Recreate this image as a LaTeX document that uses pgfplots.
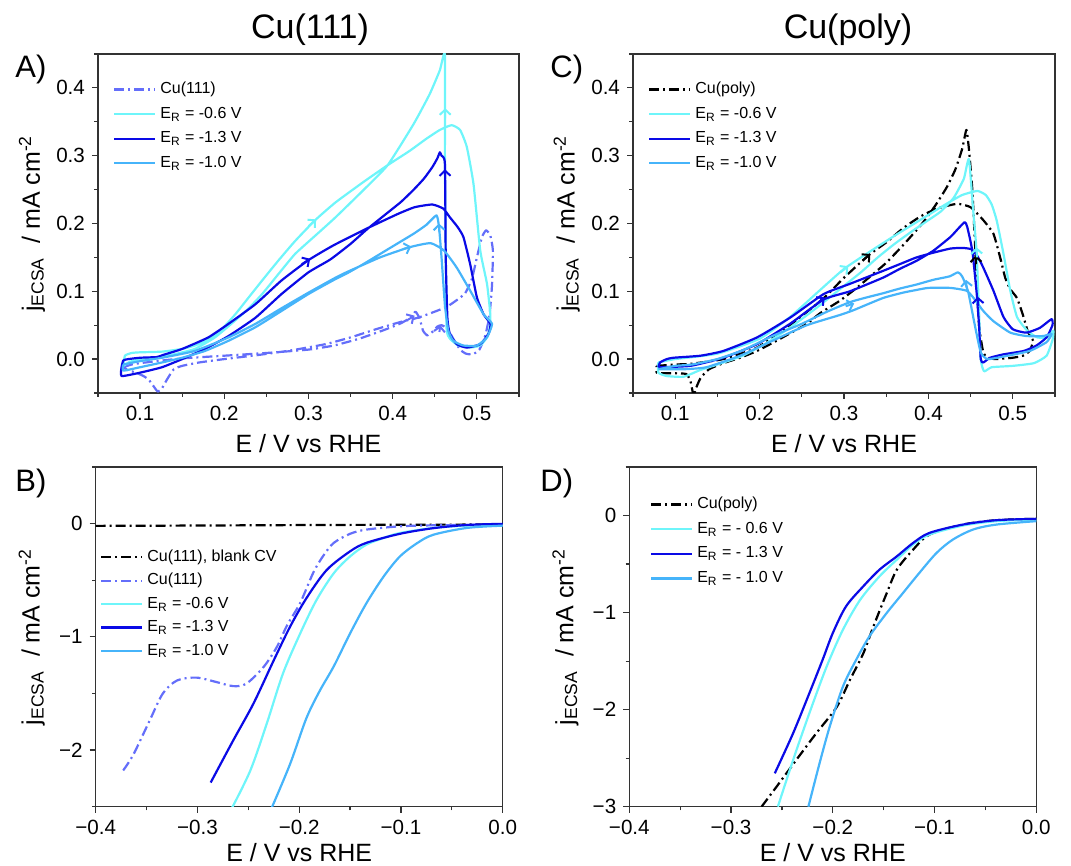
\documentclass[border=0pt]{standalone}
\usepackage{fontspec}
\setmainfont{Liberation Sans}
\usepackage{pgfplots}
\pgfplotsset{compat=1.18}
\usetikzlibrary{arrows.meta}

\definecolor{periw}{RGB}{100,110,250}
\definecolor{cyanR}{RGB}{110,245,250}
\definecolor{darkR}{RGB}{10,10,230}
\definecolor{medR}{RGB}{70,180,250}

\pgfplotsset{
  panel/.style={
    scale only axis,
    axis line style={black!80, line width=0.7pt},
    tick align=outside,
    xtick pos=bottom, ytick pos=left,
    major tick length=3pt, minor tick length=1.8pt,
    every tick/.style={black!80, line width=0.6pt},
    tick label style={font=\fontsize{10.3}{12}\selectfont},
    label style={font=\fontsize{12.5}{14}\selectfont},
    /pgf/number format/assume math mode=true,
    legend style={draw=none, fill=none, font=\fontsize{8}{9.6}\selectfont,
      anchor=north west, inner sep=0pt, row sep=1.2pt},
    legend cell align=left,
    legend image code/.code={\draw[##1] (0pt,0pt) -- (20.5pt,0pt);},
    every axis plot/.append style={line width=1.1pt, line join=round},
    ylabel={j\textsubscript{ECSA}~ / mA cm\textsuperscript{-2}},
    xlabel={E / V vs RHE},
  },
  cvpanel/.style={
    panel, width=210.5pt, height=169.5pt,
    xmin=0.05, xmax=0.55, ymin=-0.05, ymax=0.45,
    xtick={0.1,0.2,0.3,0.4,0.5},
    minor xtick={0.05,0.15,0.25,0.35,0.45,0.55},
    ytick={0,0.1,0.2,0.3,0.4},
    minor ytick={-0.05,0.05,0.15,0.25,0.35,0.45},
    xticklabel style={/pgf/number format/.cd, fixed, fixed zerofill, precision=1},
    yticklabel style={/pgf/number format/.cd, fixed, fixed zerofill, precision=1},
    ylabel style={at={(axis description cs:-0.157,0.5)}, anchor=center},
    xlabel style={at={(axis description cs:0.5,-0.177)}, anchor=base},
    legend style={at={(0.035,0.93)}},
    every axis plot/.append style={smooth, tension=0.3},
  },
  lsvpanel/.style={
    panel, width=203.5pt, height=169.85pt,
    xmin=-0.4, xmax=0,
    xtick={-0.4,-0.3,-0.2,-0.1,0},
    xticklabels={−0.4,−0.3,−0.2,−0.1,0.0},
    minor xtick={-0.35,-0.25,-0.15,-0.05},
    ylabel style={at={(axis description cs:-0.157,0.5)}, anchor=center},
    xlabel style={at={(axis description cs:0.5,-0.162)}, anchor=base},
    every axis plot/.append style={smooth},
  },
  dd/.style={dash pattern=on 5pt off 2pt on 1pt off 2pt},
  % short segment with an open head, laid over a curve to show the sweep
  sweep/.style={forget plot, -{Straight Barb[length=2.6pt,width=5.5pt]}, line width=1pt},
}

\begin{document}
\begin{tikzpicture}

% ---------------- A) Cu(111) CVs
\begin{axis}[cvpanel, at={(49pt,236.5pt)}, anchor=south west]
\addplot[periw, dd] coordinates {
 (0.080,-0.012) (0.090,-0.008) (0.100,-0.006) (0.120,-0.003) (0.150,0.001)
 (0.200,0.005) (0.250,0.009) (0.300,0.014) (0.330,0.020) (0.360,0.030)
 (0.390,0.043) (0.410,0.053) (0.422,0.062) (0.427,0.070) (0.432,0.060)
 (0.436,0.042) (0.441,0.035) (0.447,0.040) (0.453,0.048) (0.458,0.050)
 (0.465,0.045) (0.472,0.030) (0.480,0.014) (0.487,0.008) (0.495,0.007)
 (0.503,0.014) (0.510,0.035) (0.515,0.065) (0.518,0.110) (0.519,0.160)
 (0.516,0.182) (0.511,0.190) (0.506,0.180) (0.500,0.150) (0.494,0.118)
 (0.486,0.097) (0.475,0.086) (0.464,0.077) (0.450,0.070) (0.430,0.061)
 (0.410,0.055) (0.380,0.044) (0.350,0.032) (0.320,0.022) (0.280,0.013)
 (0.240,0.006) (0.200,0.000) (0.170,-0.005) (0.150,-0.010) (0.140,-0.015)
 (0.132,-0.030) (0.126,-0.043) (0.121,-0.048) (0.116,-0.040) (0.110,-0.030)
 (0.104,-0.025) (0.095,-0.020) (0.085,-0.016) (0.080,-0.012)
};
\addplot[cyanR] coordinates {
 (0.080,-0.010) (0.082,0.005) (0.090,0.009) (0.100,0.010) (0.126,0.011)
 (0.150,0.015) (0.165,0.020) (0.181,0.029) (0.197,0.044) (0.213,0.066)
 (0.229,0.091) (0.245,0.116) (0.264,0.145) (0.284,0.174) (0.308,0.205)
 (0.332,0.231) (0.365,0.261) (0.394,0.286) (0.420,0.307) (0.440,0.325)
 (0.456,0.338) (0.470,0.345) (0.480,0.338) (0.488,0.313) (0.496,0.258)
 (0.504,0.160) (0.512,0.111) (0.516,0.065) (0.515,0.045) (0.512,0.032)
 (0.504,0.020) (0.492,0.017) (0.478,0.020) (0.468,0.030) (0.464,0.045)
 (0.463,0.150) (0.462,0.300) (0.462,0.449) (0.456,0.426) (0.444,0.391)
 (0.425,0.347) (0.394,0.286) (0.365,0.249) (0.332,0.209) (0.308,0.182)
 (0.284,0.155) (0.264,0.125) (0.245,0.096) (0.229,0.075) (0.213,0.057)
 (0.189,0.032) (0.165,0.015) (0.140,0.007) (0.120,0.003) (0.100,0.000)
 (0.088,-0.004) (0.080,-0.010)
};
\addplot[darkR] coordinates {
 (0.078,-0.012) (0.080,-0.002) (0.086,0.000) (0.100,0.002) (0.120,0.003)
 (0.127,0.006) (0.150,0.015) (0.181,0.032) (0.205,0.052) (0.237,0.081)
 (0.268,0.116) (0.300,0.146) (0.330,0.168) (0.370,0.193) (0.406,0.214)
 (0.426,0.224) (0.447,0.228) (0.460,0.222) (0.468,0.209) (0.477,0.195)
 (0.484,0.180) (0.492,0.140) (0.500,0.091) (0.508,0.066) (0.516,0.052)
 (0.514,0.038) (0.504,0.022) (0.488,0.017) (0.476,0.022) (0.468,0.037)
 (0.465,0.060) (0.463,0.150) (0.462,0.288) (0.458,0.300) (0.456,0.305)
 (0.453,0.296) (0.447,0.283) (0.437,0.266) (0.425,0.250) (0.410,0.232)
 (0.390,0.212) (0.370,0.192) (0.350,0.170) (0.326,0.147) (0.300,0.128)
 (0.268,0.096) (0.237,0.061) (0.205,0.034) (0.177,0.015) (0.150,0.000)
 (0.126,-0.012) (0.100,-0.020) (0.078,-0.025) (0.078,-0.012)
};
\addplot[medR] coordinates {
 (0.080,-0.008) (0.100,-0.003) (0.126,0.002) (0.165,0.012) (0.205,0.032)
 (0.237,0.052) (0.268,0.075) (0.300,0.098) (0.332,0.120) (0.345,0.128)
 (0.385,0.150) (0.420,0.165) (0.445,0.171) (0.461,0.160) (0.476,0.135)
 (0.492,0.101) (0.508,0.066) (0.518,0.052) (0.512,0.032) (0.500,0.020)
 (0.484,0.020) (0.472,0.027) (0.466,0.042) (0.462,0.080) (0.458,0.150)
 (0.455,0.195) (0.452,0.212) (0.440,0.198) (0.425,0.185) (0.405,0.170)
 (0.385,0.155) (0.365,0.140) (0.345,0.126) (0.332,0.118) (0.300,0.096)
 (0.268,0.071) (0.237,0.047) (0.205,0.027) (0.177,0.012) (0.150,0.002)
 (0.126,-0.005) (0.100,-0.012) (0.080,-0.017) (0.080,-0.008)
};
% sweep arrows
\addplot[sweep, periw] coordinates {(0.418,0.058) (0.426,0.064)};
\addplot[sweep, periw] coordinates {(0.4555,0.040) (0.4565,0.050)};
\addplot[sweep, cyanR] coordinates {(0.300,0.196) (0.309,0.206)};
\addplot[sweep, cyanR] coordinates {(0.4624,0.355) (0.4623,0.370)};
\addplot[sweep, darkR] coordinates {(0.292,0.140) (0.302,0.148)};
\addplot[sweep, darkR] coordinates {(0.4622,0.265) (0.4621,0.280)};
\addplot[sweep, medR] coordinates {(0.412,0.162) (0.422,0.166)};
\addplot[sweep, medR] coordinates {(0.4552,0.188) (0.4548,0.200)};
\legend{Cu(111), E\textsubscript{R} = -0.6 V, E\textsubscript{R} = -1.3 V, E\textsubscript{R} = -1.0 V}
\end{axis}

% ---------------- C) Cu(poly) CVs
\begin{axis}[cvpanel, at={(316.5pt,236.5pt)}, anchor=south west, width=211pt]
\addplot[black, dd] coordinates {
 (0.078,-0.010) (0.100,-0.008) (0.118,-0.007) (0.157,0.000) (0.197,0.017)
 (0.236,0.050) (0.276,0.090) (0.300,0.120) (0.329,0.153) (0.350,0.172)
 (0.370,0.193) (0.390,0.210) (0.410,0.222) (0.434,0.229) (0.450,0.224)
 (0.465,0.205) (0.477,0.185) (0.485,0.150) (0.491,0.120) (0.497,0.103)
 (0.505,0.090) (0.512,0.065) (0.518,0.040) (0.524,0.027) (0.520,0.012)
 (0.512,0.005) (0.500,0.002) (0.480,0.000) (0.470,0.002) (0.465,0.010)
 (0.460,0.050) (0.456,0.150) (0.452,0.250) (0.448,0.310) (0.445,0.338)
 (0.440,0.310) (0.432,0.280) (0.422,0.254) (0.410,0.230) (0.400,0.212)
 (0.390,0.196) (0.370,0.168) (0.350,0.142) (0.335,0.126) (0.315,0.105)
 (0.295,0.086) (0.272,0.068) (0.256,0.052) (0.236,0.038) (0.217,0.025)
 (0.197,0.012) (0.177,0.002) (0.157,-0.006) (0.140,-0.015) (0.130,-0.028)
 (0.124,-0.045) (0.122,-0.056) (0.118,-0.032) (0.113,-0.022) (0.100,-0.021)
 (0.085,-0.021) (0.078,-0.020) (0.078,-0.010)
};
\addplot[cyanR] coordinates {
 (0.080,-0.005) (0.100,0.000) (0.150,0.008) (0.200,0.030) (0.236,0.062)
 (0.270,0.100) (0.300,0.133) (0.330,0.158) (0.360,0.182) (0.390,0.205)
 (0.420,0.228) (0.440,0.242) (0.458,0.248) (0.468,0.242) (0.475,0.228)
 (0.481,0.204) (0.489,0.155) (0.497,0.101) (0.505,0.062) (0.517,0.042)
 (0.529,0.032) (0.541,0.032) (0.548,0.042) (0.547,0.028) (0.540,0.005)
 (0.525,-0.006) (0.500,-0.010) (0.475,-0.012) (0.466,-0.018) (0.462,0.000)
 (0.460,0.070) (0.457,0.160) (0.453,0.220) (0.448,0.295) (0.442,0.266)
 (0.430,0.238) (0.415,0.218) (0.400,0.205) (0.380,0.188) (0.360,0.170)
 (0.340,0.150) (0.320,0.128) (0.300,0.108) (0.270,0.078) (0.240,0.050)
 (0.210,0.025) (0.180,0.005) (0.150,-0.008) (0.130,-0.016) (0.110,-0.026)
 (0.090,-0.025) (0.080,-0.020) (0.080,-0.005)
};
\addplot[darkR] coordinates {
 (0.080,-0.012) (0.082,-0.005) (0.090,0.000) (0.098,0.002) (0.130,0.005)
 (0.157,0.012) (0.197,0.032) (0.236,0.061) (0.276,0.096) (0.307,0.111)
 (0.346,0.130) (0.366,0.140) (0.386,0.150) (0.406,0.157) (0.426,0.163)
 (0.440,0.164) (0.451,0.162) (0.458,0.152) (0.465,0.135) (0.477,0.101)
 (0.489,0.062) (0.500,0.044) (0.516,0.039) (0.532,0.046) (0.546,0.059)
 (0.547,0.050) (0.540,0.032) (0.528,0.020) (0.513,0.012) (0.489,0.007)
 (0.473,0.002) (0.465,-0.005) (0.462,0.000) (0.460,0.050) (0.457,0.100)
 (0.452,0.160) (0.446,0.195) (0.443,0.202) (0.435,0.192) (0.426,0.180)
 (0.406,0.160) (0.386,0.145) (0.366,0.133) (0.346,0.120) (0.307,0.100)
 (0.276,0.088) (0.236,0.052) (0.197,0.022) (0.157,0.002) (0.118,-0.010)
 (0.080,-0.012)
};
\addplot[medR] coordinates {
 (0.080,-0.015) (0.110,-0.015) (0.137,-0.012) (0.177,0.005) (0.217,0.028)
 (0.256,0.050) (0.295,0.065) (0.311,0.072) (0.346,0.090) (0.370,0.098)
 (0.386,0.102) (0.400,0.105) (0.426,0.105) (0.445,0.101) (0.453,0.091)
 (0.465,0.071) (0.477,0.056) (0.497,0.039) (0.516,0.034) (0.536,0.034)
 (0.546,0.037) (0.540,0.025) (0.520,0.012) (0.490,0.004) (0.470,0.000)
 (0.462,0.010) (0.455,0.050) (0.447,0.100) (0.440,0.122) (0.435,0.128)
 (0.425,0.122) (0.406,0.117) (0.386,0.110) (0.366,0.104) (0.346,0.097)
 (0.327,0.091) (0.307,0.084) (0.280,0.070) (0.250,0.052) (0.217,0.035)
 (0.180,0.013) (0.150,0.000) (0.120,-0.008) (0.100,-0.010) (0.080,-0.015)
};
% sweep arrows
\addplot[sweep, black] coordinates {(0.322,0.145) (0.331,0.155)};
\addplot[sweep, black] coordinates {(0.4565,0.140) (0.4560,0.153)};
\addplot[sweep, cyanR] coordinates {(0.296,0.128) (0.305,0.137)};
\addplot[sweep, cyanR] coordinates {(0.4575,0.150) (0.4568,0.165)};
\addplot[sweep, darkR] coordinates {(0.268,0.082) (0.277,0.091)};
\addplot[sweep, darkR] coordinates {(0.4590,0.078) (0.4585,0.092)};
\addplot[sweep, medR] coordinates {(0.302,0.078) (0.312,0.082)};
\addplot[sweep, medR] coordinates {(0.4455,0.104) (0.4445,0.117)};
\legend{Cu(poly), E\textsubscript{R} = -0.6 V, E\textsubscript{R} = -1.3 V, E\textsubscript{R} = -1.0 V}
\end{axis}

% ---------------- B) Cu(111) LSVs
\begin{axis}[lsvpanel, at={(47.85pt,29.65pt)}, anchor=south west,
  ymin=-2.5, ymax=0.5, ytick={-2,-1,0}, yticklabels={−2,−1,0},
  minor ytick={-2.5,-1.5,-0.5,0.5},
  legend style={at={(0.01,0.77)}, row sep=0.6pt}]
\addplot[black, dd] coordinates {
 (-0.400,-0.020) (-0.300,-0.017) (-0.200,-0.013) (-0.100,-0.010) (0.000,-0.008)
};
\addplot[periw, dd] coordinates {
 (-0.373,-2.18) (-0.363,-2.04) (-0.347,-1.74) (-0.334,-1.50) (-0.320,-1.385)
 (-0.301,-1.36) (-0.281,-1.40) (-0.265,-1.435) (-0.252,-1.414) (-0.235,-1.266)
 (-0.222,-1.09) (-0.212,-0.90) (-0.199,-0.70) (-0.186,-0.43) (-0.176,-0.28)
 (-0.166,-0.17) (-0.150,-0.09) (-0.134,-0.053) (-0.101,-0.024) (-0.068,-0.015)
 (0.000,-0.009)
};
\addplot[cyanR] coordinates {
 (-0.266,-2.51) (-0.248,-2.18) (-0.232,-1.77) (-0.216,-1.325) (-0.199,-0.970)
 (-0.183,-0.675) (-0.166,-0.438) (-0.150,-0.290) (-0.134,-0.186) (-0.117,-0.127)
 (-0.101,-0.083) (-0.068,-0.038) (-0.035,-0.018) (0.000,-0.015)
};
\addplot[darkR] coordinates {
 (-0.287,-2.287) (-0.265,-1.917) (-0.245,-1.590) (-0.225,-1.207) (-0.209,-0.911)
 (-0.193,-0.660) (-0.173,-0.410) (-0.150,-0.245) (-0.134,-0.170) (-0.101,-0.090)
 (-0.068,-0.040) (-0.035,-0.012) (0.000,-0.002)
};
\addplot[medR] coordinates {
 (-0.227,-2.51) (-0.209,-2.124) (-0.193,-1.720) (-0.180,-1.480) (-0.166,-1.260)
 (-0.150,-0.970) (-0.134,-0.704) (-0.117,-0.467) (-0.101,-0.290) (-0.084,-0.172)
 (-0.068,-0.098) (-0.035,-0.038) (0.000,-0.018)
};
\legend{{Cu(111), blank CV}, Cu(111), E\textsubscript{R} = -0.6 V, E\textsubscript{R} = -1.3 V, E\textsubscript{R} = -1.0 V}
\end{axis}

% ---------------- D) Cu(poly) LSVs
\begin{axis}[lsvpanel, at={(314.65pt,29.65pt)}, anchor=south west,
  ymin=-3, ymax=0.5, ytick={-3,-2,-1,0}, yticklabels={−3,−2,−1,0},
  minor ytick={-2.5,-1.5,-0.5,0.5},
  legend style={at={(0.05,0.924)}}]
\addplot[black, dd] coordinates {
 (-0.270,-3.00) (-0.255,-2.79) (-0.236,-2.52) (-0.216,-2.24) (-0.196,-1.97)
 (-0.183,-1.69) (-0.170,-1.42) (-0.160,-1.14) (-0.147,-0.80) (-0.137,-0.557)
 (-0.121,-0.351) (-0.105,-0.196) (-0.072,-0.093) (-0.039,-0.048) (0.000,-0.034)
};
\addplot[cyanR] coordinates {
 (-0.254,-3.00) (-0.239,-2.518) (-0.223,-2.036) (-0.206,-1.555) (-0.190,-1.176)
 (-0.173,-0.867) (-0.154,-0.626) (-0.137,-0.454) (-0.121,-0.299) (-0.105,-0.196)
 (-0.072,-0.103) (-0.039,-0.058) (0.000,-0.041)
};
\addplot[darkR] coordinates {
 (-0.257,-2.656) (-0.239,-2.243) (-0.223,-1.830) (-0.210,-1.486) (-0.200,-1.211)
 (-0.187,-0.936) (-0.170,-0.729) (-0.154,-0.557) (-0.137,-0.420) (-0.121,-0.282)
 (-0.105,-0.179) (-0.072,-0.093) (-0.039,-0.048) (0.000,-0.034)
};
\addplot[medR] coordinates {
 (-0.224,-3.00) (-0.213,-2.552) (-0.203,-2.174) (-0.190,-1.761) (-0.177,-1.486)
 (-0.164,-1.245) (-0.147,-1.004) (-0.131,-0.798) (-0.115,-0.592) (-0.098,-0.385)
 (-0.082,-0.248) (-0.062,-0.144) (-0.039,-0.093) (0.000,-0.058)
};
\legend{Cu(poly), E\textsubscript{R} = - 0.6 V, E\textsubscript{R} = - 1.3 V, E\textsubscript{R} = - 1.0 V}
\end{axis}

% titles and panel letters
\node[anchor=base, font=\fontsize{17}{20}\selectfont] at (155pt,413.5pt) {Cu(111)};
\node[anchor=base, font=\fontsize{17}{20}\selectfont] at (424pt,413.5pt) {Cu(poly)};
\node[anchor=base west, inner sep=0pt, font=\fontsize{15.5}{18}\selectfont] at (7.5pt,394pt) {A)};
\node[anchor=base west, inner sep=0pt, font=\fontsize{15.5}{18}\selectfont] at (275pt,394pt) {C)};
\node[anchor=base west, inner sep=0pt, font=\fontsize{15.5}{18}\selectfont] at (7.5pt,187pt) {B)};
\node[anchor=base west, inner sep=0pt, font=\fontsize{15.5}{18}\selectfont] at (270pt,187pt) {D)};

\pgfresetboundingbox
\path[use as bounding box] (0,0) rectangle (535.5pt,433pt);
\end{tikzpicture}
\end{document}
